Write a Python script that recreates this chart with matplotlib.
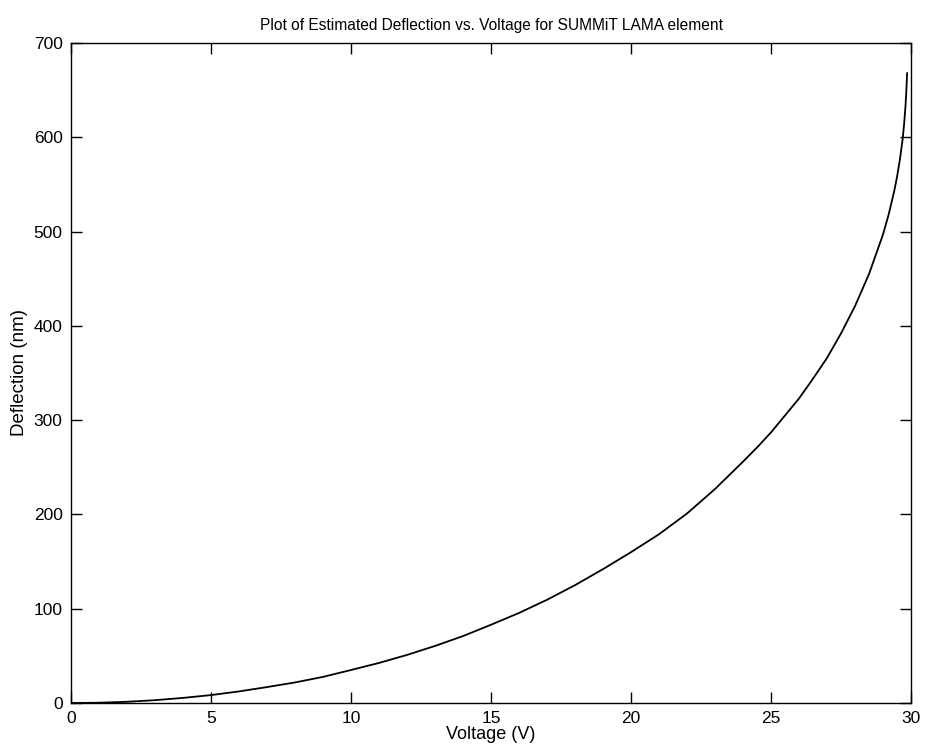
import matplotlib
matplotlib.use("Agg")
from matplotlib import pyplot as plt

plt.rcParams['font.family'] = ['Liberation Sans', 'DejaVu Sans']

# Values
voltage = [0, 1, 2, 3, 4, 5, 6, 7, 8, 9, 10, 11, 12, 13, 14, 15, 16, 17, 18, 19,
           20, 21, 22, 23, 24, 24.5, 25, 25.5, 26, 26.5, 27, 27.5, 28, 28.5, 29,
           29.2, 29.4, 29.5, 29.6, 29.7, 29.75, 29.8, 29.83, 29.86]
deflection = [0, 0.3, 1.3, 3.0, 5.4, 8.4, 12.3, 16.9, 21.8, 27.7, 35.0, 42.5, 51,
              60.5, 71, 83, 95.5, 109.5, 125, 142, 160, 179, 201, 227, 256, 271,
              287, 305, 323, 344, 366, 392, 421, 455, 497, 518, 543, 558, 576,
              598, 613, 632, 648, 668]

x_ticks = [0, 5, 10, 15, 20, 25, 30]
y_ticks = [0, 100, 200, 300, 400, 500, 600, 700]

fig = plt.figure(figsize=(9.25, 7.53), dpi=100)
ax = fig.add_axes([0.0768, 0.0664, 0.9081, 0.8765])

ax.plot(voltage, deflection, color='black', linewidth=1.3)

ax.set_xlim(0, 30)
ax.set_ylim(0, 700)
ax.set_xticks(x_ticks)
ax.set_yticks(y_ticks)
ax.tick_params(direction='in', length=8, width=1, top=True, right=True,
               labelsize=12.5, pad=6)
for spine in ax.spines.values():
    spine.set_linewidth(1)

ax.set_xlabel('Voltage (V)', fontsize=13, labelpad=0)
ax.set_ylabel('Deflection (nm)', fontsize=13.5, labelpad=4)
ax.set_title('Plot of Estimated Deflection vs. Voltage for SUMMiT LAMA element',
             fontsize=11.2, pad=9)

plt.savefig('out.png', dpi=100)
plt.close()
